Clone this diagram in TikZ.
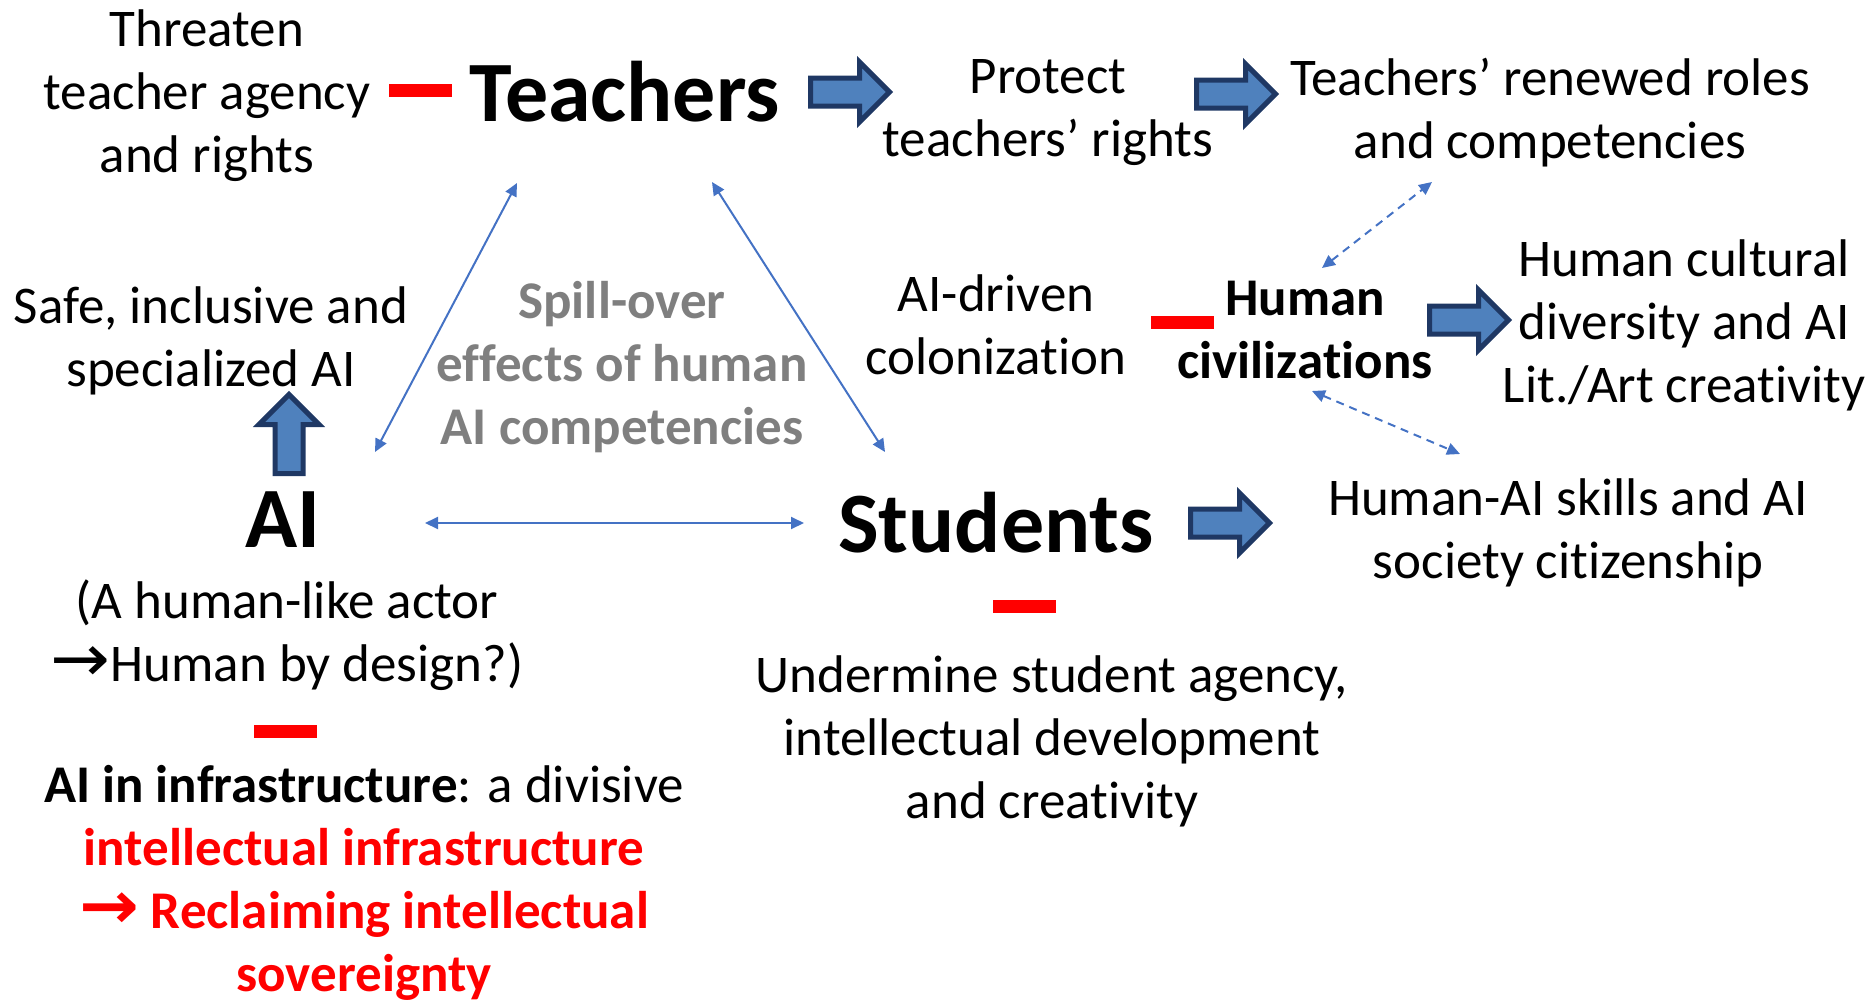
\documentclass[tikz,border=0pt]{standalone}
\usepackage{fontspec}
\setmainfont[Ligatures={NoCommon}]{Carlito}
\newfontfamily\symfont{DejaVu Sans}
\usetikzlibrary{arrows.meta, shapes.arrows}
\definecolor{blockfill}{HTML}{4F81BD}
\definecolor{blockline}{HTML}{1F3864}
\definecolor{linkblue}{HTML}{4472C4}
\definecolor{spillgray}{HTML}{7F7F7F}
\newcommand{\bigto}{\scalebox{1.35}[1.25]{\symfont →}}

\begin{document}
\begin{tikzpicture}[
  x=1pt, y=-1pt,
  txt/.style={align=center, inner sep=0pt, font=\fontsize{53}{63}\selectfont},
  big/.style={inner sep=0pt, font=\fontsize{86}{100}\selectfont\bfseries},
  minus/.style={fill=red, minimum width=63pt, minimum height=13pt, inner sep=0pt},
  blockarr/.style={single arrow, draw=blockline, fill=blockfill, line width=5pt,
    inner xsep=0pt, inner ysep=11.5pt, minimum height=79pt, minimum width=0pt,
    single arrow head extend=16pt},
  uparr/.style={blockarr, shape border rotate=90, inner xsep=11.5pt, inner ysep=0pt},
  link/.style={{Triangle[length=13pt,width=12pt]}-{Triangle[length=13pt,width=12pt]}, linkblue, line width=2pt},
  dlink/.style={link, dash pattern=on 8pt off 6pt}
]
\useasboundingbox (0,0) rectangle (1875,1001);

\node (teachers) [big] at (625,92) {Teachers};
\node (students) [big] at (996,523) {Students};
\node (ai)       [big] at (283,520) {AI};

\node (threaten) [txt] at (207,96) {Threaten\\teacher agency\\and rights};
\node (protect)  [txt] at (1048,113) {Protect\\teachers’ rights};
\node (renewed)  [txt] at (1550,113) {Teachers’ renewed roles\\and competencies};
\node (colon)    [txt] at (996,325) {AI-driven\\colonization};
\node (civil)    [txt, font=\fontsize{53}{63}\selectfont\bfseries] at (1305,330) {Human\\civilizations};
\node (cultural) [txt] at (1684,325) {Human cultural\\diversity and AI\\Lit./Art creativity};
\node (skills)   [txt] at (1568,533) {Human-AI skills and AI\\society citizenship};
\node (undermine)[txt] at (1052,741) {Undermine student agency,\\intellectual development\\and creativity};
\node (spill)    [txt, text=spillgray, font=\fontsize{53}{63}\selectfont\bfseries] at (622,367) {Spill-over\\effects of human\\AI competencies};
\node (safe)     [txt] at (211,341) {Safe, inclusive and\\specialized AI};
\node (actor)    [txt] at (287,635) {(A human-like actor\\\bigto Human by design?)};
\node (infra)    [txt] at (364,883) {\textbf{AI in infrastructure}: a divisive\\
  \textcolor{red}{\textbf{intellectual infrastructure}}\\
  \textcolor{red}{\textbf{\bigto\ Reclaiming intellectual}}\\
  \textcolor{red}{\textbf{sovereignty}}};

\node (m1) [minus] at (420,90) {};
\node (m2) [minus] at (1182,322) {};
\node (m3) [minus] at (1024,606) {};
\node (m4) [minus] at (285,731) {};

\node (b1) [blockarr] at (843,92) {};
\node (b2) [blockarr] at (1229,94) {};
\node (b3) [blockarr] at (1462,320) {};
\node (b4) [blockarr] at (1223,523) {};
\node (b5) [uparr] at (289,441) {};

\coordinate (ta) at (517,183);
\coordinate (at) at (375,452);
\coordinate (ts) at (712,182);
\coordinate (st) at (885,452);
\coordinate (as) at (425,523);
\coordinate (sa) at (804,523);
\coordinate (cr) at (1322,268);
\coordinate (rc) at (1432,182);
\coordinate (cs) at (1312,391);
\coordinate (sc) at (1460,454);

\draw[link] (ta) -- (at);
\draw[link] (ts) -- (st);
\draw[link] (as) -- (sa);
\draw[dlink] (cr) -- (rc);
\draw[dlink] (cs) -- (sc);
\end{tikzpicture}
\end{document}
